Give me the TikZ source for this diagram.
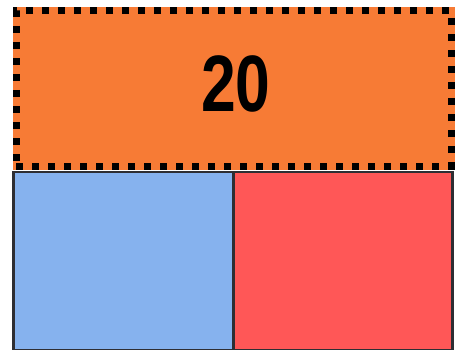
\documentclass[tikz,border=0pt]{standalone}
\usepackage{fontspec}
\setmainfont{Liberation Sans}
\definecolor{topfill}{HTML}{F77B35}
\definecolor{leftfill}{HTML}{86B2EE}
\definecolor{rightfill}{HTML}{FF5757}
\definecolor{edge}{HTML}{2E2E33}
\tikzset{
  part/.style={draw=edge, line width=2.2pt, minimum height=178pt, inner sep=0pt, outer sep=0pt, anchor=north west},
  whole/.style={draw=black, line width=7pt, dash pattern=on 7pt off 9pt, minimum width=435pt, minimum height=155pt, inner sep=0pt, outer sep=0pt, anchor=north west,
    preaction={draw=topfill, solid, fill=topfill}}
}
\begin{document}
\begin{tikzpicture}[x=1pt,y=-1pt]
\useasboundingbox (0,0) rectangle (457,350);
\fill[white] (0,0) rectangle (457,350);
\node[part, fill=leftfill, minimum width=220pt] (left) at (13.5,172) {};
\node[part, fill=rightfill, minimum width=219pt] (right) at (233.5,172) {};
\node[whole] (total) at (16,11) {};
\node (label) at (236,84) {\bfseries\fontsize{80}{80}\selectfont\scalebox{0.78}[1]{20}};
\end{tikzpicture}
\end{document}
